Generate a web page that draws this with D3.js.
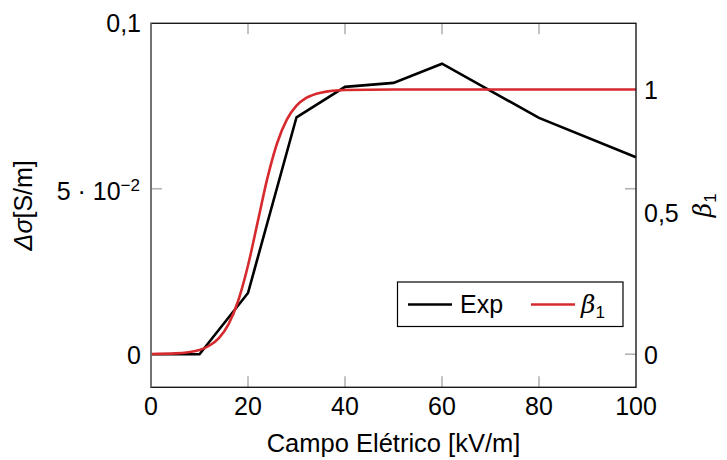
<!DOCTYPE html>
<html>
<head>
<meta charset="utf-8">
<script src="https://cdn.jsdelivr.net/npm/d3@7/dist/d3.min.js"></script>
<style>
  html, body { margin: 0; padding: 0; background: #fff; }
  svg { display: block; }
  text { font-family: "Liberation Sans", Arial, Helvetica, sans-serif; fill: #000; }
</style>
</head>
<body>
<svg id="chart" width="727" height="460"></svg>
<script>
// Measured conductivity change (left axis)
const expField = [0, 10, 20, 30, 40, 50, 60, 80, 100];
const expSigma = [0, 0, 0.0185, 0.0716, 0.0808, 0.0820, 0.0878, 0.0714, 0.0595];

// Fitted beta_1 (right axis)
const betaField = [0, 5, 10, 12, 14, 16, 18, 20, 22, 24, 26, 28, 30, 32, 35, 40, 50, 60, 70, 80, 90, 100];
const betaValue = [0.001, 0.003, 0.016, 0.032, 0.061, 0.114, 0.203, 0.335, 0.5, 0.665, 0.797, 0.886,
                   0.939, 0.968, 0.988, 0.998, 1, 1, 1, 1, 1, 1];

const xTicks = [0, 20, 40, 60, 80, 100];
const leftTicks = [0, 0.05, 0.1];
const rightTicks = [0, 0.5, 1];
const rightTickLabels = ["0", "0,5", "1"];

const plot = { left: 151, right: 636, top: 23.3, bottom: 387.3 };
const RED = "#d62a2e";
const GREEK = "'DejaVu Serif', serif";

const svg = d3.select("#chart");

const x = d3.scaleLinear().domain([0, 100]).range([plot.left, plot.right]);
const yL = d3.scaleLinear().domain([-0.01, 0.1]).range([plot.bottom, plot.top]);
const yR = d3.scaleLinear().domain([-0.125, 1.25]).range([plot.bottom, plot.top]);

const tickLen = 11;
const tickColor = "#b4b4b4";

// inward ticks: x on bottom and top, left-axis ticks mirrored on the right
const g = svg.append("g");
xTicks.slice(1, -1).forEach(v => {
  g.append("line").attr("x1", x(v)).attr("x2", x(v)).attr("y1", plot.bottom).attr("y2", plot.bottom - tickLen)
    .attr("stroke", tickColor).attr("stroke-width", 1.6);
  g.append("line").attr("x1", x(v)).attr("x2", x(v)).attr("y1", plot.top).attr("y2", plot.top + tickLen)
    .attr("stroke", tickColor).attr("stroke-width", 1.6);
});
leftTicks.slice(0, -1).forEach(v => {
  g.append("line").attr("x1", plot.left).attr("x2", plot.left + tickLen).attr("y1", yL(v)).attr("y2", yL(v))
    .attr("stroke", tickColor).attr("stroke-width", 1.6);
  g.append("line").attr("x1", plot.right).attr("x2", plot.right - tickLen).attr("y1", yL(v)).attr("y2", yL(v))
    .attr("stroke", tickColor).attr("stroke-width", 1.6);
});

// series
const lineExp = d3.line().x((d, i) => x(expField[i])).y((d, i) => yL(expSigma[i]));
const lineBeta = d3.line().x((d, i) => x(betaField[i])).y((d, i) => yR(betaValue[i])).curve(d3.curveMonotoneX);

svg.append("path").attr("d", lineExp(expField)).attr("fill", "none")
  .attr("stroke", "#000").attr("stroke-width", 2.6).attr("stroke-linejoin", "miter");
svg.append("path").attr("d", lineBeta(betaField)).attr("fill", "none")
  .attr("stroke", RED).attr("stroke-width", 2.6);

// frame
svg.append("rect").attr("x", plot.left).attr("y", plot.top)
  .attr("width", plot.right - plot.left).attr("height", plot.bottom - plot.top)
  .attr("fill", "none").attr("stroke", "#1a1a1a").attr("stroke-width", 1.4);
svg.append("line").attr("x1", plot.left).attr("x2", plot.left).attr("y1", plot.top).attr("y2", plot.bottom)
  .attr("stroke", "#7a7a7a").attr("stroke-width", 1.6);

const FS = 25;
const SUB = 17;

// x tick labels
xTicks.forEach(v => {
  svg.append("text").attr("x", x(v)).attr("y", 415).attr("text-anchor", "middle")
    .attr("font-size", FS).text(v);
});

// left tick labels
svg.append("text").attr("x", 141).attr("y", yL(0) + 9.5).attr("text-anchor", "end").attr("font-size", FS).text("0");
const t5 = svg.append("text").attr("x", 140).attr("y", yL(0.05) + 11).attr("text-anchor", "end").attr("font-size", FS);
t5.append("tspan").text("5 · 10");
t5.append("tspan").attr("dy", -9).attr("font-size", SUB).text("−2");
svg.append("text").attr("x", 141).attr("y", yL(0.1) + 8.5).attr("text-anchor", "end").attr("font-size", FS).text("0,1");

// right tick labels (the comma label sits slightly higher)
rightTicks.forEach((v, i) => {
  const lift = rightTickLabels[i].includes(",") ? -9 : 0;
  svg.append("text").attr("x", 644).attr("y", yR(v) + 9.5 + lift).attr("text-anchor", "start")
    .attr("font-size", FS).text(rightTickLabels[i]);
});

// axis titles
svg.append("text").attr("x", (plot.left + plot.right) / 2).attr("y", 452).attr("text-anchor", "middle")
  .attr("font-size", 25.5).text("Campo Elétrico [kV/m]");

const yt = svg.append("text").attr("transform", `translate(32,${(plot.top + plot.bottom) / 2}) rotate(-90)`)
  .attr("text-anchor", "middle").attr("font-size", FS);
yt.append("tspan").attr("font-style", "italic").text("Δσ");
yt.append("tspan").text("[S/m]");

const yrt = svg.append("text").attr("transform", `translate(711,${(plot.top + plot.bottom) / 2}) rotate(-90)`)
  .attr("text-anchor", "middle").attr("font-size", FS);
yrt.append("tspan").attr("font-style", "italic").attr("font-family", GREEK).text("β");
yrt.append("tspan").attr("dy", 5).attr("font-size", SUB).text("1");

// legend
const lg = svg.append("g");
lg.append("rect").attr("x", 397.5).attr("y", 282).attr("width", 225.5).attr("height", 44.5)
  .attr("fill", "#fff").attr("stroke", "#000").attr("stroke-width", 1.2);
lg.append("line").attr("x1", 408).attr("x2", 452).attr("y1", 304.5).attr("y2", 304.5)
  .attr("stroke", "#000").attr("stroke-width", 2.6);
lg.append("text").attr("x", 460).attr("y", 312.5).attr("font-size", FS).text("Exp");
lg.append("line").attr("x1", 531).attr("x2", 575).attr("y1", 304.5).attr("y2", 304.5)
  .attr("stroke", RED).attr("stroke-width", 2.6);
const lb = lg.append("text").attr("x", 581).attr("y", 312.5).attr("font-size", FS);
lb.append("tspan").attr("font-style", "italic").attr("font-family", GREEK).text("β");
lb.append("tspan").attr("dy", 5).attr("font-size", SUB).text("1");
</script>
</body>
</html>
